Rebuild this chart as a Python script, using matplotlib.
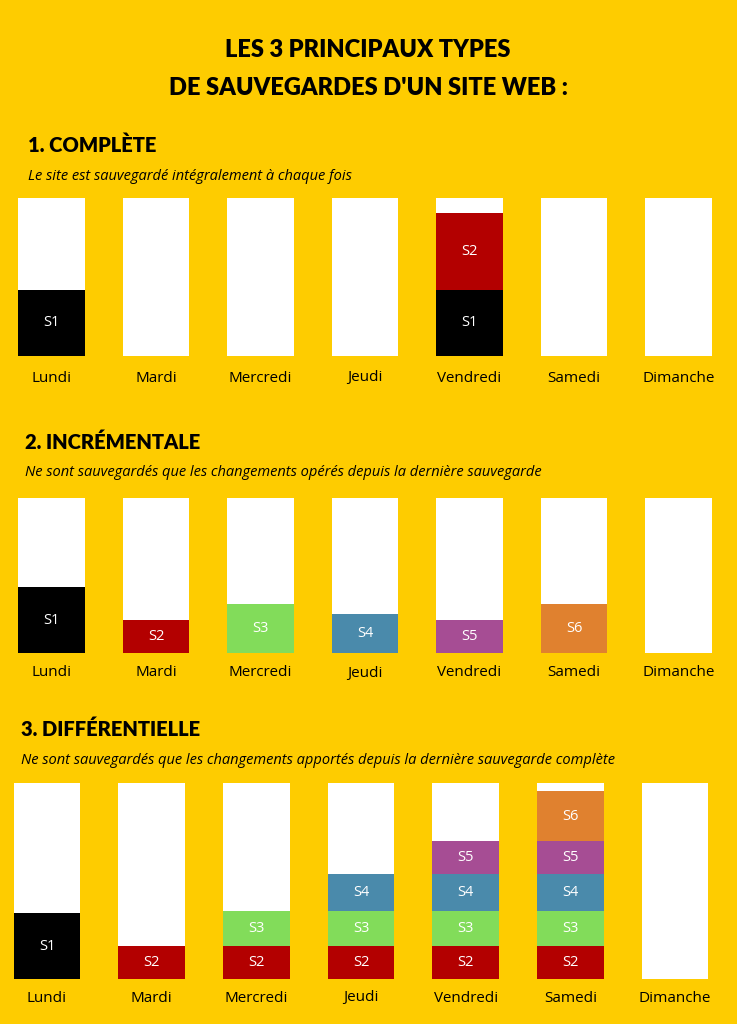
import matplotlib.pyplot as plt

days = ["Lundi", "Mardi", "Mercredi", "Jeudi", "Vendredi", "Samedi", "Dimanche"]
colors = {"S1": "#000000", "S2": "#B30000", "S3": "#82DC5A", "S4": "#4A8AAB",
          "S5": "#A64D94", "S6": "#E0812F"}
BG = "#FECC00"

# segments per day: list of (label, height), bottom to top; full bar height = capacity
complete_capacity = 158
complete_segments = [[("S1", 66)], [], [], [], [("S1", 66), ("S2", 77)], [], []]

incr_capacity = 155
incr_segments = [[("S1", 66)], [("S2", 33)], [("S3", 49)], [("S4", 39)],
                 [("S5", 33)], [("S6", 49)], []]

diff_capacity = 196
diff_segments = [[("S1", 66)], [("S2", 33)], [("S2", 33), ("S3", 35)],
                 [("S2", 33), ("S3", 35), ("S4", 37)],
                 [("S2", 33), ("S3", 35), ("S4", 37), ("S5", 33)],
                 [("S2", 33), ("S3", 35), ("S4", 37), ("S5", 33), ("S6", 50)], []]

W, H = 737, 1024
fig = plt.figure(figsize=(W / 100, H / 100), dpi=100, facecolor=BG)

HEAD = "Lato"
BODY = "Open Sans"


def px_text(x, y, s, **kw):
    fig.text(x / W, 1 - y / H, s, **kw)


px_text(368, 50, "LES 3 PRINCIPAUX TYPES", ha="center", va="center",
        fontsize=17, fontweight="black", family=HEAD)
px_text(368, 88, "DE SAUVEGARDES D'UN SITE WEB :", ha="center", va="center",
        fontsize=17, fontweight="black", family=HEAD)


def section(top, bottom, left, right, capacity, segments, title, ty, sub, sx, sy, label_y):
    px_text(sx, ty, title, ha="left", va="center", fontsize=14.5,
            fontweight="black", family=HEAD)
    px_text(sx, sy, sub, ha="left", va="center", fontsize=10.5,
            style="italic", family=BODY)
    ax = fig.add_axes([left / W, 1 - bottom / H, (right - left) / W, (bottom - top) / H])
    ax.set_facecolor(BG)
    x = range(len(days))
    ax.bar(x, [capacity] * len(days), width=0.64, color="white")
    for i, segs in enumerate(segments):
        base = 0
        for lab, h in segs:
            ax.bar(i, h, bottom=base, width=0.64, color=colors[lab])
            ax.text(i, base + h / 2, lab, ha="center", va="center",
                    color="white", fontsize=10.5, family=BODY)
            base += h
    ax.set_xlim(-0.32, 6.32)
    ax.set_ylim(0, capacity)
    ax.axis("off")
    for i, d in enumerate(days):
        cx = left + (i + 0.32) * (right - left) / 6.64
        px_text(cx, label_y, d, ha="center", va="center", fontsize=11, family=BODY)


section(198, 356, 18, 712, complete_capacity, complete_segments,
        "1. COMPLÈTE", 145, "Le site est sauvegardé intégralement à chaque fois", 28, 176, 378)
section(498, 653, 18, 712, incr_capacity, incr_segments,
        "2. INCRÉMENTALE", 442,
        "Ne sont sauvegardés que les changements opérés depuis la dernière sauvegarde", 25, 473, 673)
section(783, 979, 13.5, 708.5, diff_capacity, diff_segments,
        "3. DIFFÉRENTIELLE", 729,
        "Ne sont sauvegardés que les changements apportés depuis la dernière sauvegarde complète",
        21, 760, 998)

fig.savefig("out.png", dpi=100, facecolor=BG)
